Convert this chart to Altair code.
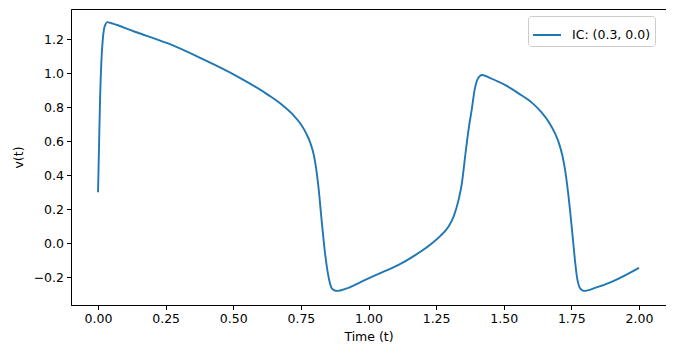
import altair as alt
import pandas as pd

t = [0.0, 0.004, 0.008, 0.012, 0.017, 0.022, 0.028, 0.034, 0.05, 0.136, 0.259, 0.382,
     0.506, 0.63, 0.68, 0.72, 0.75, 0.77, 0.785, 0.797, 0.806, 0.815, 0.827, 0.839, 0.852, 0.864,
     0.874, 0.885, 0.92, 0.988, 1.05, 1.111, 1.17, 1.235, 1.265, 1.296, 1.315, 1.333, 1.345,
     1.358, 1.371, 1.383, 1.392, 1.401, 1.412, 1.42, 1.45, 1.506, 1.555, 1.605, 1.64, 1.67,
     1.69, 1.705, 1.717, 1.728, 1.74, 1.753, 1.765, 1.772, 1.779, 1.787, 1.797, 1.84, 1.901, 2.0]
v = [0.30, 0.60, 0.88, 1.06, 1.19, 1.26, 1.29, 1.302, 1.295, 1.245, 1.176, 1.088,
     0.99, 0.872, 0.815, 0.758, 0.70, 0.645, 0.59, 0.525, 0.445, 0.33, 0.13, -0.055, -0.196, -0.265,
     -0.278, -0.281, -0.266, -0.216, -0.172, -0.128, -0.073, 0.0, 0.042, 0.098, 0.158, 0.255, 0.35,
     0.52, 0.68, 0.8, 0.9, 0.958, 0.985, 0.99, 0.972, 0.931, 0.882, 0.826, 0.77, 0.705,
     0.645, 0.585, 0.515, 0.42, 0.27, 0.07, -0.125, -0.212, -0.255, -0.273, -0.281, -0.262, -0.226, -0.145]
series = "IC: (0.3, 0.0)"
x_ticks = [0.0, 0.25, 0.5, 0.75, 1.0, 1.25, 1.5, 1.75, 2.0]
y_ticks = [-0.2, 0.0, 0.2, 0.4, 0.6, 0.8, 1.0, 1.2]

df = pd.DataFrame({"t": t, "v": v, "series": [series] * len(t)})

FONT = "DejaVu Sans"
FS = 12.5

chart = alt.Chart(df).mark_line(
    interpolate="monotone", strokeWidth=1.9
).encode(
    x=alt.X("t:Q", title="Time (t)",
            scale=alt.Scale(domain=[-0.1, 2.1], nice=False, zero=False),
            axis=alt.Axis(values=x_ticks, format=".2f", grid=False, tickSize=4.5,
                          labelPadding=3, titlePadding=5, labelFlush=False)),
    y=alt.Y("v:Q", title="v(t)",
            scale=alt.Scale(domain=[-0.364, 1.379], nice=False, zero=False),
            axis=alt.Axis(values=y_ticks, format=".1f", grid=False, tickSize=4.5,
                          labelPadding=3, titlePadding=8, labelFlush=False)),
    color=alt.Color("series:N", scale=alt.Scale(range=["#1f77b4"]),
                    legend=alt.Legend(title=None, orient="none", legendX=457, legendY=7,
                                      symbolType="stroke", symbolSize=784,
                                      symbolStrokeWidth=2, labelOffset=10,
                                      strokeColor="#cccccc", fillColor="white",
                                      cornerRadius=3, padding=4,
                                      labelFontSize=FS, labelFont=FONT,
                                      labelColor="black")),
).properties(
    width=595, height=296,
    autosize=alt.AutoSizeParams(type="none"),
    padding={"left": 63, "top": 1, "right": 0, "bottom": 42},
).configure(
    font=FONT,
).configure_axis(
    labelFont=FONT, labelFontSize=FS, labelColor="black",
    titleFont=FONT, titleFontSize=FS, titleColor="black", titleFontWeight="normal",
    tickColor="black", domainColor="black", domainWidth=1, tickWidth=1,
).configure_view(
    stroke="black", strokeWidth=1,
)

chart.save("out.html", embed_options={"renderer": "svg", "actions": False})
